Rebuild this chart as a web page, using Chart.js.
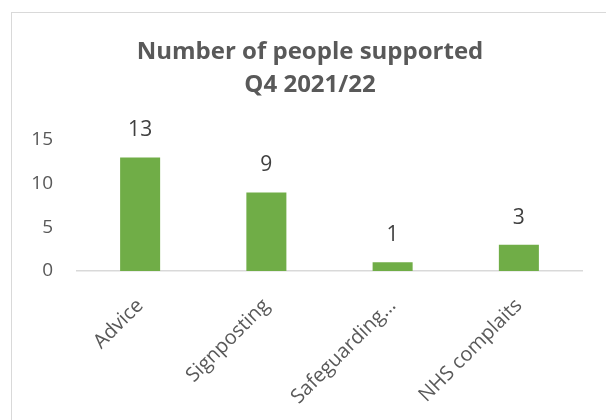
<!DOCTYPE html>
<html>
<head>
<meta charset="utf-8">
<script src="https://cdn.jsdelivr.net/npm/chart.js@4/dist/chart.umd.min.js"></script>
<style>
  html, body { margin: 0; padding: 0; background: #ffffff; overflow: hidden; }
  #wrap { position: relative; width: 606px; height: 420px; }
  #frame { position: absolute; left: 11px; top: 12px; width: 700px; height: 500px;
           border: 1px solid #d9d9d9; box-sizing: border-box; }
  canvas { position: absolute; left: 0; top: 0; }
</style>
</head>
<body>
<div id="wrap">
  <div id="frame"></div>
  <canvas id="chart" width="606" height="420"></canvas>
</div>
<script>
const categories = ['Advice', 'Signposting', 'Safeguarding…', 'NHS complaits'];
const peopleSupported = [13, 9, 1, 3];
const titleLines = ['Number of people supported', 'Q4 2021/22'];

const FONT = "'Open Sans', 'Noto Sans', sans-serif";

// Two-line heading, centred over the whole frame rather than the plot
const frameTitle = {
  id: 'frameTitle',
  afterDraw(chart) {
    const ctx = chart.ctx;
    ctx.save();
    ctx.font = 'bold 24px ' + FONT;
    ctx.fillStyle = '#595959';
    ctx.textAlign = 'center';
    ctx.textBaseline = 'middle';
    titleLines.forEach((line, i) => {
      ctx.fillText(line, 310, 52.5 + i * 33);
    });
    ctx.restore();
  }
};

// Writes each bar's value just above it
const valueLabels = {
  id: 'valueLabels',
  afterDatasetsDraw(chart) {
    const ctx = chart.ctx;
    const meta = chart.getDatasetMeta(0);
    ctx.save();
    ctx.font = '21px ' + FONT;
    ctx.fillStyle = '#404040';
    ctx.textAlign = 'center';
    ctx.textBaseline = 'middle';
    meta.data.forEach((bar, i) => {
      ctx.fillText(String(chart.data.datasets[0].data[i]), bar.x, bar.y - 27);
    });
    ctx.restore();
  }
};

new Chart(document.getElementById('chart'), {
  type: 'bar',
  data: {
    labels: categories,
    datasets: [{
      data: peopleSupported,
      backgroundColor: '#70ad47',
      borderWidth: 0,
      categoryPercentage: 1,
      barPercentage: 0.317
    }]
  },
  options: {
    responsive: false,
    animation: false,
    layout: { padding: { top: 140, right: 24, bottom: 0, left: 0 } },
    plugins: {
      legend: { display: false },
      tooltip: { enabled: false },
      title: { display: false }
    },
    scales: {
      x: {
        grid: { display: false, drawTicks: false },
        border: { display: true, color: '#d9d9d9', width: 1.5 },
        ticks: {
          color: '#595959',
          font: { family: FONT, size: 20 },
          minRotation: 45,
          maxRotation: 45,
          padding: 23
        },
        afterFit(scale) { scale.height = 149; }
      },
      y: {
        min: 0,
        max: 15,
        grid: { display: false, drawTicks: false },
        border: { display: false },
        ticks: {
          stepSize: 5,
          color: '#595959',
          font: { family: FONT, size: 19 },
          padding: 24
        },
        afterFit(scale) { scale.width = 77; }
      }
    }
  },
  plugins: [valueLabels, frameTitle]
});
</script>
</body>
</html>
